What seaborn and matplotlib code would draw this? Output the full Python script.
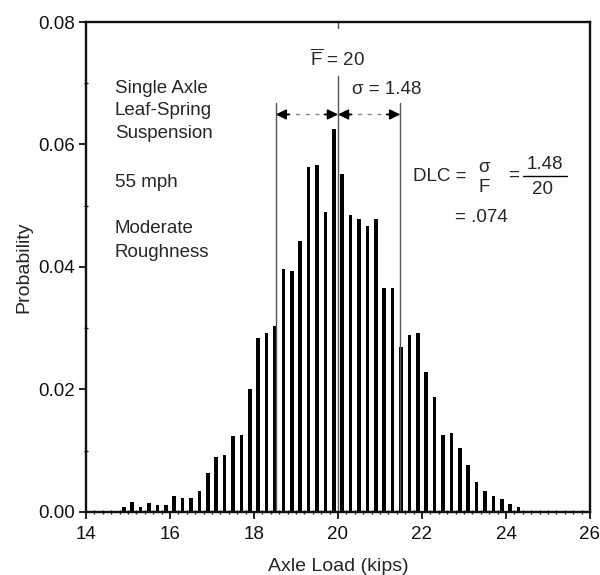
import matplotlib
matplotlib.use("Agg")
import matplotlib.pyplot as plt
import seaborn as sns
from matplotlib.ticker import MultipleLocator, FormatStrFormatter

# axle load bins (kips) and their probabilities
axle_load = [14.9, 15.1, 15.3, 15.5, 15.7, 15.9, 16.1, 16.3, 16.5, 16.7,
             16.9, 17.1, 17.3, 17.5, 17.7, 17.9, 18.1, 18.3, 18.5, 18.7,
             18.9, 19.1, 19.3, 19.5, 19.7, 19.9, 20.1, 20.3, 20.5, 20.7,
             20.9, 21.1, 21.3, 21.5, 21.7, 21.9, 22.1, 22.3, 22.5, 22.7,
             22.9, 23.1, 23.3, 23.5, 23.7, 23.9, 24.1, 24.3]
probability = [0.0008, 0.0016, 0.0008, 0.0015, 0.0011, 0.0011, 0.0025, 0.0022, 0.0022, 0.0034,
               0.0064, 0.0090, 0.0093, 0.0123, 0.0126, 0.0200, 0.0284, 0.0292, 0.0303, 0.0396,
               0.0393, 0.0443, 0.0563, 0.0566, 0.0490, 0.0626, 0.0552, 0.0485, 0.0479, 0.0466,
               0.0478, 0.0366, 0.0366, 0.0269, 0.0288, 0.0292, 0.0228, 0.0187, 0.0126, 0.0128,
               0.0104, 0.0077, 0.0048, 0.0034, 0.0026, 0.0021, 0.0013, 0.0008]

mean_load = 20
sigma = 1.48
x_ticks = [14, 16, 18, 20, 22, 24, 26]
y_ticks = [0.00, 0.02, 0.04, 0.06, 0.08]
info_lines = ["Single Axle", "Leaf-Spring", "Suspension", "55 mph", "Moderate", "Roughness"]
info_y = [0.0691, 0.0656, 0.0618, 0.0538, 0.0462, 0.0424]

sns.set_theme(style="ticks")
plt.rcParams['font.family'] = ['Liberation Sans', 'DejaVu Sans']
plt.rcParams['mathtext.fontset'] = 'custom'
plt.rcParams['mathtext.rm'] = 'Liberation Sans'
FS = 13.5

fig = plt.figure(figsize=(6, 5.75), dpi=100)
ax = fig.add_axes([0.1433, 0.110, 0.84, 0.8517])

sns.barplot(x=axle_load, y=probability, native_scale=True, width=0.42,
            color="black", saturation=1, errorbar=None, linewidth=0, ax=ax)

ax.set_xlim(14, 26)
ax.set_ylim(0, 0.08)
ax.set_xticks(x_ticks)
ax.set_yticks(y_ticks)
ax.yaxis.set_major_formatter(FormatStrFormatter('%.2f'))
ax.xaxis.set_minor_locator(MultipleLocator(0.2))
ax.yaxis.set_minor_locator(MultipleLocator(0.01))
ax.tick_params(which='major', direction='out', length=5, width=1.3,
               labelsize=FS, colors='#111111', pad=3)
ax.tick_params(axis='x', which='major', pad=5)
ax.tick_params(which='minor', direction='inout', length=3, width=1.0, colors='#222222')
for s in ax.spines.values():
    s.set_visible(True)
    s.set_linewidth(1.7)
    s.set_color('#111111')

ax.set_xlabel("Axle Load (kips)", fontsize=14, labelpad=11)
ax.set_ylabel("Probability", fontsize=14, labelpad=4)

# mean line with gap for its label
ax.plot([mean_load, mean_load], [0, 0.0712], color='#555555', lw=1.0)
ax.plot([mean_load, mean_load], [0.0790, 0.08], color='#555555', lw=1.0)
ax.text(mean_load, 0.0740, r'$\overline{\mathrm{F}}$ = 20', fontsize=FS,
        ha='center', va='center')

# +/- sigma lines
for xs in (mean_load - sigma, mean_load + sigma):
    ax.plot([xs, xs], [0, 0.0668], color='#555555', lw=1.0)

y_arr = 0.0649
for a, b in ((mean_load - sigma, mean_load), (mean_load, mean_load + sigma)):
    ax.plot([a, b], [y_arr, y_arr], color='#888888', lw=1.0, ls=(0, (3, 4)))
    for tip, tail in ((a, a + 0.32), (b, b - 0.32)):
        ax.annotate('', xy=(tip, y_arr), xytext=(tail, y_arr),
                    arrowprops=dict(arrowstyle='-|>', color='black', lw=1.3,
                                    mutation_scale=15, shrinkA=0, shrinkB=0))
ax.text(20.33, 0.0689, "σ = 1.48", fontsize=FS, ha='left', va='center')

for line, yy in zip(info_lines, info_y):
    ax.text(14.69, yy, line, fontsize=FS, ha='left', va='center')

# DLC formula
ax.text(21.79, 0.0547, "DLC =", fontsize=FS, ha='left', va='center')
ax.text(23.48, 0.0562, "σ", fontsize=FS, ha='center', va='center')
ax.text(23.48, 0.0530, "F", fontsize=FS, ha='center', va='center')
ax.text(24.17, 0.0549, "=", fontsize=FS, ha='center', va='center')
ax.text(24.92, 0.0568, "1.48", fontsize=FS, ha='center', va='center')
ax.plot([24.40, 25.45], [0.0549, 0.0549], color='black', lw=1.0)
ax.text(24.87, 0.0526, "20", fontsize=FS, ha='center', va='center')
ax.text(22.79, 0.0481, "= .074", fontsize=FS, ha='left', va='center')

fig.savefig("out.png", dpi=100)
